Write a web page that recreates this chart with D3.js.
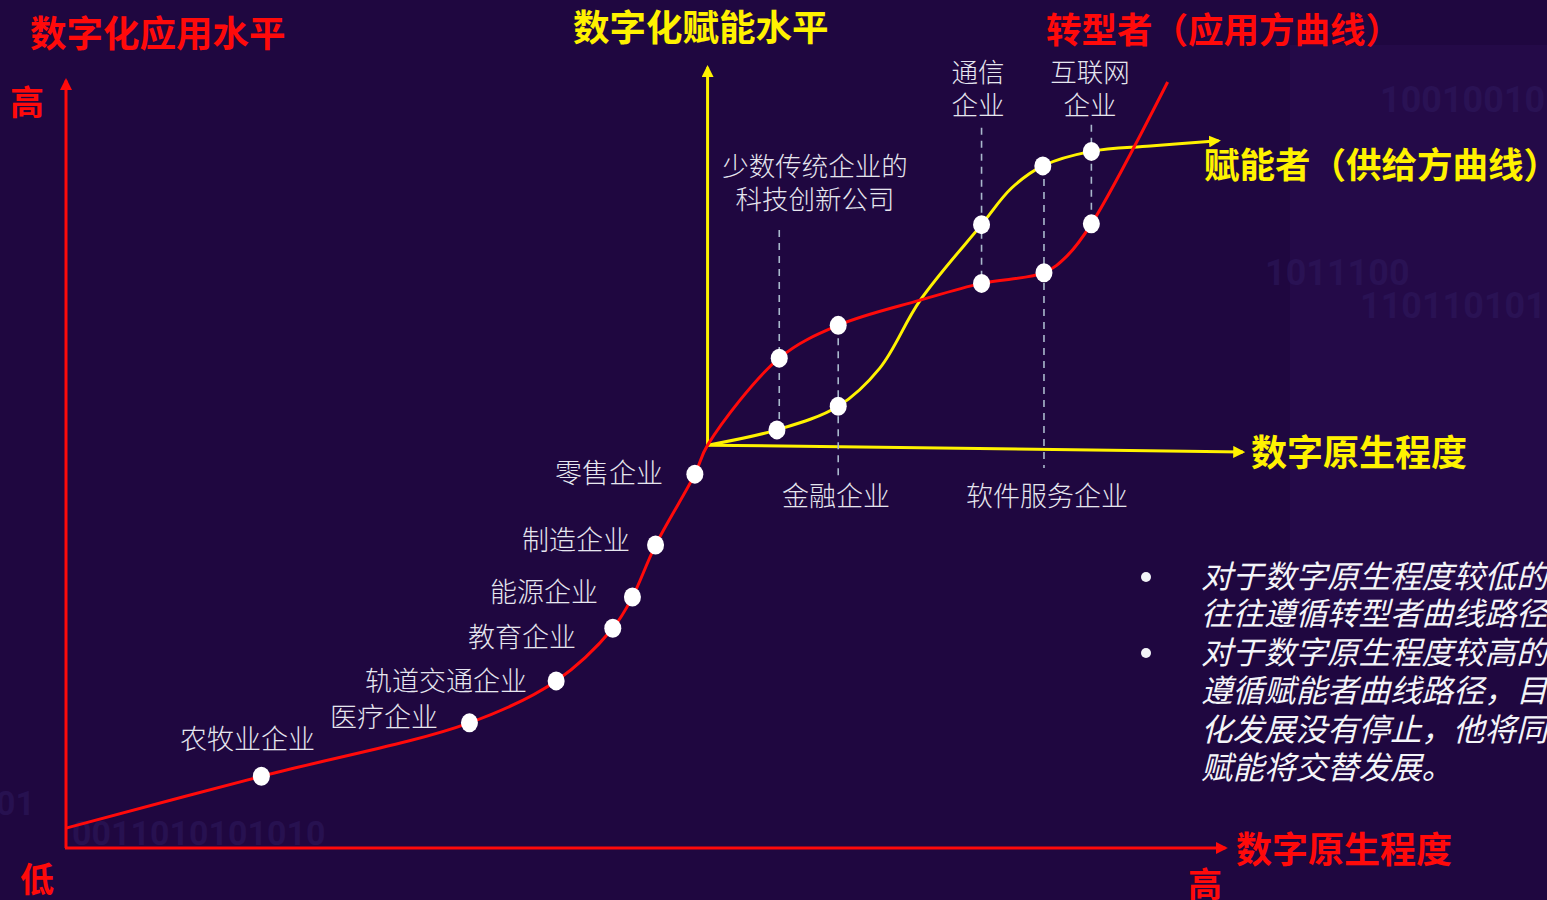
<!DOCTYPE html>
<html><head><meta charset="utf-8">
<script src="https://cdn.jsdelivr.net/npm/d3@7"></script>
<style>
html,body{margin:0;padding:0;background:#1f0740;overflow:hidden;}
svg{display:block;}
</style></head>
<body>
<svg id="chart" width="1547" height="900"></svg>
<script>
// ---- data (abstract units: x = 数字原生程度 0..100, y = 数字化水平 0..100) ----
const transformerCurve = [[0,2.6],[16.9,9.4],[34.9,16.4],[42.4,21.9],[47.3,28.8],[49.0,32.9],[51.0,39.7],[54.4,49.0],[55.5,52.8],[61.7,64.2],[66.8,68.5],[73.9,71.8],[79.2,74.0],[84.6,75.4],[86.6,77.6],[88.7,81.8],[95.3,100.4]];
const enablerCurve = [[55.5,52.8],[61.5,54.8],[66.8,57.9],[70.4,62.9],[73.9,71.8],[79.2,81.7],[81.8,86.5],[84.5,89.4],[88.7,91.3],[93.8,92.0],[99.7,92.7]];
const transformerDots = [[16.9,9.4],[34.9,16.4],[42.4,21.9],[47.3,28.8],[49.0,32.9],[51.0,39.7],[54.4,49.0],[61.7,64.2],[66.8,68.5],[79.2,74.0],[84.6,75.4],[88.7,81.8]];
const enablerDots = [[61.5,54.8],[66.8,57.9],[79.2,81.7],[84.5,89.4],[88.7,91.3]];
const guideLines = [[61.7,81.0,54.8],[66.8,68.5,48.5],[79.2,94.4,74.0],[84.6,89.4,49.8],[88.7,94.8,81.8]];
const outerAxes = {origin:[0,0], top:[0,100.6], right:[100.3,0]};
const innerAxes = {origin:[55.5,52.8], top:[55.5,102.3], right:[101.8,51.9]};
const leftLabels = ["零售企业","制造企业","能源企业","教育企业","轨道交通企业","医疗企业","农牧业企业"];
const topLabels = [["少数传统企业的","科技创新公司"],["通信","企业"],["互联网","企业"]];
const bottomLabels = ["金融企业","软件服务企业"];
const notes = ["对于数字原生程度较低的传统企业，","往往遵循转型者曲线路径；","对于数字原生程度较高的企业，","遵循赋能者曲线路径，目前数字","化发展没有停止，他将同时与","赋能将交替发展。"];
const bgDigits = ["1001001011","1101101010","1011100","0011010101010","01"];

const svg = d3.select("#chart");
const W = 1547, H = 900;
const x = d3.scaleLinear().domain([0,100]).range([66,1222]);
const y = d3.scaleLinear().domain([0,100]).range([848,85]);
const RED = "#ff0a0a", YEL = "#fff200", BG = "#1f0740";
const CJK = "'Noto Sans CJK SC','Noto Sans',sans-serif";

// background
svg.append("rect").attr("width",W).attr("height",H).attr("fill",BG);
svg.append("rect").attr("x",1290).attr("y",45).attr("width",260).attr("height",560).attr("fill","#2a0f52").attr("opacity",0.45);
const bgPos = [[1380,112,36],[1360,318,36],[1265,285,36],[72,845,34],[-4,815,34]];
svg.append("g").selectAll("text").data(bgDigits).join("text")
  .attr("x",(d,i)=>bgPos[i][0]).attr("y",(d,i)=>bgPos[i][1])
  .attr("font-size",(d,i)=>bgPos[i][2]).attr("font-weight","bold")
  .attr("font-family","Roboto,sans-serif").attr("fill","#2f1a5e").attr("opacity",0.55).text(d=>d);

// markers
const defs = svg.append("defs");
function marker(id,color){
  defs.append("marker").attr("id",id).attr("viewBox","0 0 10 10").attr("refX",8).attr("refY",5)
    .attr("markerWidth",4).attr("markerHeight",4).attr("orient","auto")
    .append("path").attr("d","M0,0L10,5L0,10Z").attr("fill",color);
}
marker("ar","#ff0a0a"); marker("ay","#fff200");

// outer axes
const ax = svg.append("g");
ax.append("line").attr("x1",x(outerAxes.origin[0])).attr("y1",y(outerAxes.origin[1]))
  .attr("x2",x(outerAxes.top[0])).attr("y2",y(outerAxes.top[1]))
  .attr("stroke",RED).attr("stroke-width",3).attr("marker-end","url(#ar)");
ax.append("line").attr("x1",x(outerAxes.origin[0])-1).attr("y1",y(outerAxes.origin[1]))
  .attr("x2",x(outerAxes.right[0])).attr("y2",y(outerAxes.right[1]))
  .attr("stroke",RED).attr("stroke-width",3).attr("marker-end","url(#ar)");

// inner axes
ax.append("line").attr("x1",x(innerAxes.origin[0])).attr("y1",y(innerAxes.origin[1]))
  .attr("x2",x(innerAxes.top[0])).attr("y2",y(innerAxes.top[1]))
  .attr("stroke",YEL).attr("stroke-width",3).attr("marker-end","url(#ay)");
ax.append("line").attr("x1",x(innerAxes.origin[0])).attr("y1",y(innerAxes.origin[1]))
  .attr("x2",x(innerAxes.right[0])).attr("y2",y(innerAxes.right[1]))
  .attr("stroke",YEL).attr("stroke-width",3).attr("marker-end","url(#ay)");

// guides
svg.append("g").selectAll("line").data(guideLines).join("line")
  .attr("x1",d=>x(d[0])).attr("x2",d=>x(d[0])).attr("y1",d=>y(d[1])).attr("y2",d=>y(d[2]))
  .attr("stroke","#a9b8cc").attr("stroke-width",1.6).attr("stroke-dasharray","7,6");

// curves
const line = d3.line().x(d=>x(d[0])).y(d=>y(d[1])).curve(d3.curveCatmullRom.alpha(0.5));
svg.append("path").datum(enablerCurve).attr("d",line).attr("fill","none").attr("stroke",YEL).attr("stroke-width",3).attr("marker-end","url(#ay)");
svg.append("path").datum(transformerCurve).attr("d",line).attr("fill","none").attr("stroke",RED).attr("stroke-width",3);

// dots
svg.append("g").selectAll("ellipse").data(transformerDots.concat(enablerDots)).join("ellipse")
  .attr("cx",d=>x(d[0])).attr("cy",d=>y(d[1])).attr("rx",8.5).attr("ry",9.5).attr("fill","#ffffff");

// labels
const LBL = "#e6e6ef";
const leftPos = [[663,473],[630,540],[598,592],[576,637],[527,681],[438,717],[315,739]];
svg.append("g").selectAll("text").data(leftLabels).join("text")
  .attr("x",(d,i)=>leftPos[i][0]).attr("y",(d,i)=>leftPos[i][1]).attr("dy","0.36em")
  .attr("text-anchor","end").attr("font-size",27).attr("font-weight",300)
  .attr("font-family",CJK).attr("fill",LBL).text(d=>d);
const topPos = [[815,166],[978,72],[1090,72]];
topLabels.forEach((lines,i)=>{
  lines.forEach((t,j)=>{
    svg.append("text").attr("x",topPos[i][0]).attr("y",topPos[i][1]+j*33).attr("dy","0.36em")
      .attr("text-anchor","middle").attr("font-size",26.5).attr("font-weight",300)
      .attr("font-family",CJK).attr("fill",LBL).text(t);
  });
});
const botPos = [[836,496],[1047,496]];
svg.append("g").selectAll("text").data(bottomLabels).join("text")
  .attr("x",(d,i)=>botPos[i][0]).attr("y",(d,i)=>botPos[i][1]).attr("dy","0.36em")
  .attr("text-anchor","middle").attr("font-size",27).attr("font-weight",300)
  .attr("font-family",CJK).attr("fill",LBL).text(d=>d);

// titles
function title(t,x0,y0,color,size){
  svg.append("text").attr("x",x0).attr("y",y0).attr("dy","0.36em").attr("font-size",size)
    .attr("font-weight","bold").attr("font-family",CJK).attr("fill",color).text(t);
}
title("数字化应用水平",30,34,RED,36.5);
title("高",10,103,RED,34);
title("低",20,880,RED,34);
title("数字化赋能水平",573,28,YEL,36.5);
title("转型者（应用方曲线）",1046,30,RED,35.5);
title("赋能者（供给方曲线）",1204,165,YEL,35.5);
title("数字原生程度",1251,453,YEL,36);
title("数字原生程度",1236,850,RED,36);
title("高",1188,885,RED,34);

// notes
const noteY = [577,614,653,691,730,768];
svg.append("g").selectAll("text").data(notes).join("text")
  .attr("x",1201).attr("y",(d,i)=>noteY[i]).attr("dy","0.36em")
  .attr("font-size",31.5).attr("font-style","italic").attr("font-weight",400)
  .attr("font-family",CJK).attr("fill","#f4f4f8").text(d=>d);
svg.append("g").selectAll("circle").data([0,2]).join("circle")
  .attr("cx",1146).attr("cy",d=>noteY[d]).attr("r",5).attr("fill","#f4f4f8");
</script>
</body></html>
